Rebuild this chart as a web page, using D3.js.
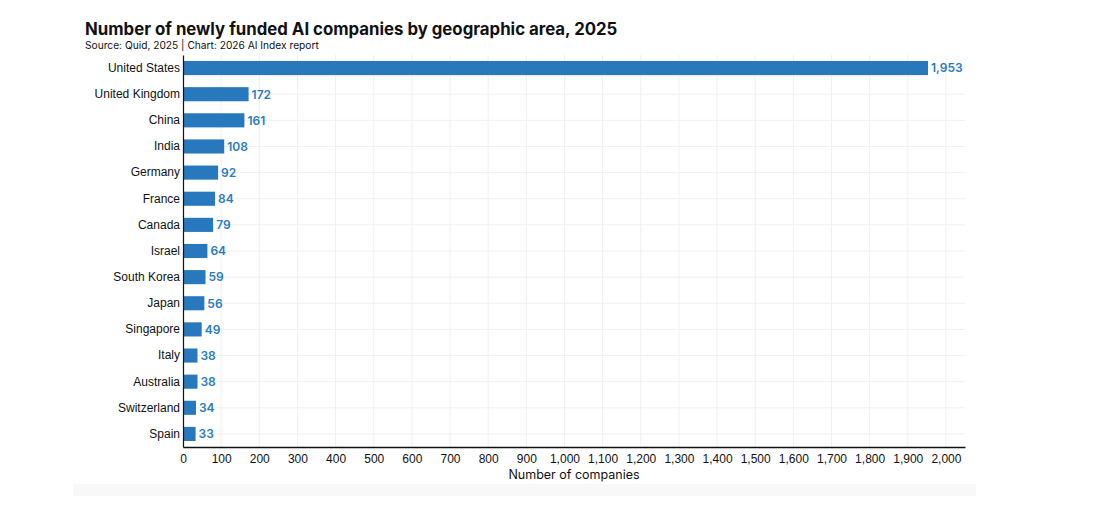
<!DOCTYPE html>
<html lang="en">
<head>
    <meta charset="UTF-8">
    <title>Newly funded AI companies by geographic area, 2025</title>
    <script src="https://d3js.org/d3.v7.min.js"></script>
    <style>
        body { margin: 0; background: #fff; font-family: Inter, "Noto Sans", sans-serif; }
        .tick text { font-size: 12px; fill: #111; }
    </style>
</head>
<body>
    <div id="chart"></div>
    <script>
        // data
        const countries = ["United States", "United Kingdom", "China", "India", "Germany", "France",
            "Canada", "Israel", "South Korea", "Japan", "Singapore", "Italy", "Australia",
            "Switzerland", "Spain"];
        const companies = [1953, 172, 161, 108, 92, 84, 79, 64, 59, 56, 49, 38, 38, 34, 33];
        const xTicks = [0, 100, 200, 300, 400, 500, 600, 700, 800, 900, 1000,
            1100, 1200, 1300, 1400, 1500, 1600, 1700, 1800, 1900, 2000];

        const W = 1096, H = 511;
        const plot = { left: 183, right: 965, top: 55, bottom: 447 };
        const barColor = "#2878bd";

        const svg = d3.select("#chart").append("svg")
            .attr("width", W)
            .attr("height", H);

        // faint footer strip
        svg.append("rect")
            .attr("x", 73).attr("y", 484)
            .attr("width", 903).attr("height", 12)
            .attr("fill", "#f8f8f8");

        const x = d3.scaleLinear().domain([0, 2050]).range([plot.left, plot.right]);
        const y = d3.scaleBand().domain(countries).range([plot.top, plot.bottom])
            .paddingInner(0.46).paddingOuter(0.23);

        // gridlines
        svg.append("g")
            .selectAll("line")
            .data(xTicks.slice(1))
            .join("line")
            .attr("x1", d => x(d)).attr("x2", d => x(d))
            .attr("y1", plot.top).attr("y2", plot.bottom)
            .attr("stroke", "#f0f0f0");

        svg.append("g")
            .selectAll("line")
            .data(countries)
            .join("line")
            .attr("x1", plot.left).attr("x2", plot.right)
            .attr("y1", d => y(d) + y.bandwidth() / 2)
            .attr("y2", d => y(d) + y.bandwidth() / 2)
            .attr("stroke", "#f0f0f0");

        // bars
        svg.append("g")
            .selectAll("rect")
            .data(countries)
            .join("rect")
            .attr("x", x(0))
            .attr("y", d => y(d))
            .attr("width", (d, i) => x(companies[i]) - x(0))
            .attr("height", y.bandwidth())
            .attr("fill", barColor);

        // value labels
        svg.append("g")
            .selectAll("text")
            .data(countries)
            .join("text")
            .attr("x", (d, i) => x(companies[i]) + 3)
            .attr("y", d => y(d) + y.bandwidth() / 2)
            .attr("dy", "0.36em")
            .attr("font-size", 12)
            .attr("font-weight", 600)
            .attr("fill", "#2a7bbf")
            .text((d, i) => d3.format(",")(companies[i]));

        // y axis
        const yAxis = svg.append("g")
            .attr("transform", `translate(${plot.left},0)`)
            .call(d3.axisLeft(y).tickSize(0).tickPadding(3));
        yAxis.select(".domain").attr("stroke", "#111").attr("stroke-width", 1.2);
        yAxis.selectAll(".tick text").attr("font-size", 13).attr("fill", "#111");

        // x axis
        const xAxis = svg.append("g")
            .attr("transform", `translate(0,${plot.bottom})`)
            .call(d3.axisBottom(x).tickValues(xTicks).tickSize(0).tickPadding(7).tickFormat(d3.format(",")));
        xAxis.select(".domain").attr("stroke", "#111").attr("stroke-width", 1.5);
        xAxis.selectAll(".tick text").attr("font-size", 12.5).attr("fill", "#111");

        svg.append("text")
            .attr("x", (plot.left + plot.right) / 2)
            .attr("y", 479)
            .attr("text-anchor", "middle")
            .attr("font-size", 12.5)
            .attr("fill", "#111")
            .text("Number of companies");

        // titles
        svg.append("text")
            .attr("x", 85).attr("y", 35)
            .attr("font-size", 16.8)
            .attr("font-weight", 700)
            .attr("fill", "#111")
            .text("Number of newly funded AI companies by geographic area, 2025");

        svg.append("text")
            .attr("x", 85).attr("y", 49)
            .attr("font-size", 10.2)
            .attr("fill", "#111")
            .text("Source: Quid, 2025 | Chart: 2026 AI Index report");
    </script>
</body>
</html>
